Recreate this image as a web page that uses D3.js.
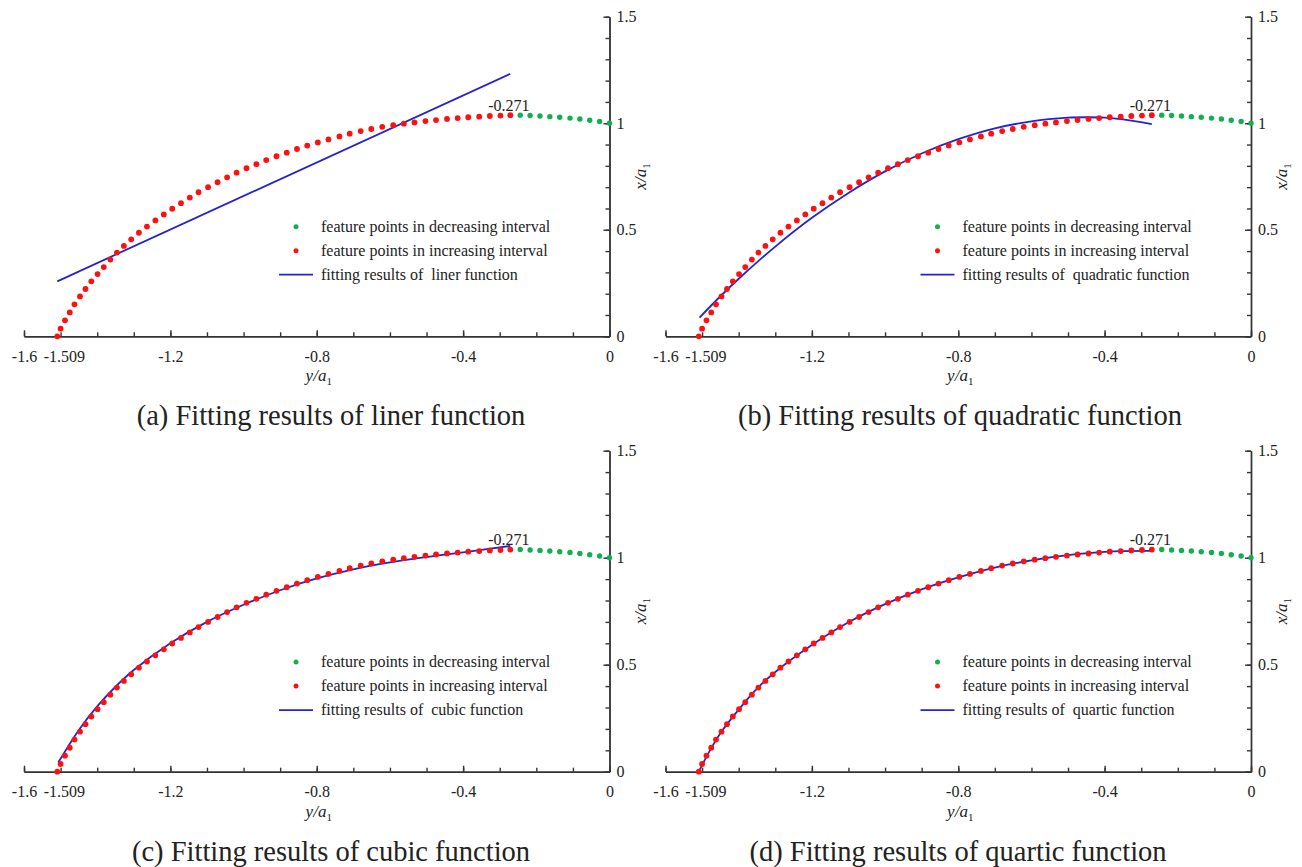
<!DOCTYPE html>
<html><head><meta charset="utf-8">
<script src="https://cdn.jsdelivr.net/npm/d3@7"></script>
<style>
body{margin:0;background:#fff;}
svg text{font-family:"Liberation Serif","Times New Roman",serif;fill:#222;}
</style></head><body>
<svg id="chart" width="1302" height="867"></svg>
<script>
// ---- data (y/a1 = horizontal, x/a1 = vertical) ----
const incY = [-1.509,-1.500,-1.488,-1.475,-1.462,-1.447,-1.432,-1.416,-1.399,-1.382,
  -1.364,-1.346,-1.327,-1.307,-1.286,-1.264,-1.241,-1.218,-1.195,-1.171,
  -1.147,-1.123,-1.097,-1.071,-1.045,-1.019,-0.992,-0.965,-0.938,-0.910,
  -0.882,-0.854,-0.826,-0.797,-0.768,-0.738,-0.710,-0.680,-0.651,-0.621,
  -0.591,-0.562,-0.533,-0.503,-0.474,-0.444,-0.415,-0.386,-0.356,-0.327,
  -0.298,-0.271];
const incX = [0.000,0.036,0.075,0.112,0.150,0.187,0.222,0.258,0.292,0.325,
  0.360,0.393,0.424,0.455,0.486,0.515,0.544,0.572,0.599,0.625,
  0.651,0.676,0.700,0.723,0.746,0.768,0.789,0.808,0.827,0.845,
  0.862,0.879,0.895,0.910,0.924,0.938,0.951,0.963,0.973,0.983,
  0.991,0.998,1.004,1.010,1.015,1.020,1.024,1.028,1.031,1.034,
  1.036,1.038];
const decY = [-0.244,-0.217,-0.190,-0.163,-0.136,-0.108,-0.081,-0.054,-0.027,0];
const decX = [1.038,1.036,1.034,1.031,1.028,1.024,1.020,1.014,1.008,1.000];

const linY = [-1.509,-0.271];
const linX = [0.258,1.232];
const quadY = [-1.507,-1.45,-1.4,-1.3,-1.2,-1.1,-1.0,-0.9,-0.8,-0.7,-0.6,-0.5,-0.45,-0.4,-0.35,-0.271];
const quadX = [0.088,0.188,0.270,0.421,0.556,0.673,0.774,0.858,0.925,0.976,1.009,1.026,1.028,1.026,1.018,0.996];
const cubY = [-1.506,-1.45,-1.4,-1.35,-1.3,-1.2,-1.1,-1.0,-0.9,-0.8,-0.7,-0.6,-0.5,-0.4,-0.271];
const cubX = [0.044,0.195,0.305,0.397,0.475,0.600,0.700,0.780,0.848,0.903,0.946,0.978,1.003,1.025,1.055];
const quarY = [-1.509,-1.48,-1.45,-1.4,-1.35,-1.3,-1.2,-1.1,-1.0,-0.9,-0.8,-0.7,-0.6,-0.5,-0.4,-0.35,-0.271];
const quarX = [0.000,0.095,0.180,0.290,0.388,0.466,0.592,0.698,0.783,0.852,0.908,0.954,0.988,1.012,1.027,1.031,1.032];

const xMajorTicks = [-1.6,-1.2,-0.8,-0.4,0];
const xMinorTicks = [-1.6,-1.5,-1.4,-1.3,-1.2,-1.1,-1.0,-0.9,-0.8,-0.7,-0.6,-0.5,-0.4,-0.3,-0.2,-0.1,0];
const yMajorTicks = [0,0.5,1,1.5];
const yMinorTicks = [0,0.1,0.2,0.3,0.4,0.5,0.6,0.7,0.8,0.9,1.0,1.1,1.2,1.3,1.4,1.5];
const startLabel = -1.509;
const peakValue = -0.271;
const peakLabel = "-0.271";
const legendDec = "feature points in decreasing interval";
const legendInc = "feature points in increasing interval";
const fitNames = ["liner","quadratic","cubic","quartic"];
const captions = ["(a) Fitting results of liner function","(b) Fitting results of quadratic function",
                  "(c) Fitting results of cubic function","(d) Fitting results of quartic function"];
const fitY = [linY, quadY, cubY, quarY];
const fitX = [linX, quadX, cubX, quarX];

// ---- layout ----
const panels = [
  {left:24,   right:609.5, bottom:336.3, top:16.7,  capX:331, capY:425},
  {left:665.5,right:1251,  bottom:336.3, top:16.7,  capX:960, capY:425},
  {left:24,   right:609.5, bottom:771.7, top:450.7, capX:331, capY:861},
  {left:665.5,right:1251,  bottom:771.7, top:450.7, capX:958, capY:861}
];
const RED = "#ff1010", GREEN = "#10b050", BLUE = "#2323d2", AX = "#333";

const svg = d3.select("#chart");
const incData = incY.map((v,i)=>({y:v,x:incX[i]}));
const decData = decY.map((v,i)=>({y:v,x:decX[i]}));

panels.forEach((p, i) => {
  const g = svg.append("g");
  const sx = d3.scaleLinear().domain([-1.6, 0]).range([p.left, p.right]);
  const sy = d3.scaleLinear().domain([0, 1.5]).range([p.bottom, p.top]);

  // x axis
  const xa1 = g.append("g").attr("transform", `translate(0,${p.bottom})`)
    .call(d3.axisBottom(sx).tickValues(xMinorTicks).tickSizeInner(-4).tickSizeOuter(0).tickFormat(""));
  const xa2 = g.append("g").attr("transform", `translate(0,${p.bottom})`)
    .call(d3.axisBottom(sx).tickValues(xMajorTicks).tickSizeInner(-6).tickSizeOuter(0).tickPadding(14)
      .tickFormat(d => String(d)));
  // y axis
  const ya1 = g.append("g").attr("transform", `translate(${p.right},0)`)
    .call(d3.axisRight(sy).tickValues(yMinorTicks).tickSizeInner(-4).tickSizeOuter(0).tickFormat(""));
  const ya2 = g.append("g").attr("transform", `translate(${p.right},0)`)
    .call(d3.axisRight(sy).tickValues(yMajorTicks).tickSizeInner(-6).tickSizeOuter(0).tickPadding(7)
      .tickFormat(d => String(d)));
  [xa1, xa2, ya1, ya2].forEach(a => {
    a.selectAll("path,line").attr("stroke", AX).attr("stroke-width", 1.4);
    a.selectAll("text").attr("font-size", 16).attr("font-family", "Liberation Serif").attr("fill", "#222");
  });

  // -1.509 label
  g.append("text").attr("x", sx(startLabel) + 7).attr("y", p.bottom + 14).attr("dy", "0.71em")
    .attr("text-anchor", "middle").attr("font-size", 16).text(String(startLabel));

  // axis titles
  const xt = g.append("text").attr("x", sx(-0.8) + 2).attr("y", p.bottom + 45)
    .attr("text-anchor", "middle").attr("font-size", 17);
  xt.append("tspan").attr("font-style", "italic").text("y/a");
  xt.append("tspan").attr("font-size", 11).attr("dy", 4).text("1");

  const yt = g.append("text").attr("transform", `translate(${p.right + 36},${sy(0.75)}) rotate(-90)`)
    .attr("text-anchor", "middle").attr("font-size", 17);
  yt.append("tspan").attr("font-style", "italic").text("x/a");
  yt.append("tspan").attr("font-size", 11).attr("dy", 4).text("1");

  // fitted curve
  const fitData = fitY[i].map((v,k)=>({y:v,x:fitX[i][k]}));
  const line = d3.line().x(d => sx(d.y)).y(d => sy(d.x)).curve(d3.curveCatmullRom);
  g.append("path").datum(fitData).attr("d", line).attr("fill", "none")
    .attr("stroke", BLUE).attr("stroke-width", 1.8);

  // points
  g.selectAll(".dec").data(decData).join("circle").attr("cx", d => sx(d.y)).attr("cy", d => sy(d.x))
    .attr("r", 2.7).attr("fill", GREEN);
  g.selectAll(".inc").data(incData).join("circle").attr("cx", d => sx(d.y)).attr("cy", d => sy(d.x))
    .attr("r", 2.9).attr("fill", RED);

  // peak label
  g.append("text").attr("x", sx(peakValue) - 1.5).attr("y", sy(incX[incX.length-1]) - 4.5)
    .attr("text-anchor", "middle").attr("font-size", 16).text(peakLabel);

  // legend
  const lx = p.left;
  const r1 = p.bottom - 109.6, r2 = p.bottom - 85.6, r3 = p.bottom - 61.6;
  g.append("circle").attr("cx", lx + 272).attr("cy", r1).attr("r", 2.5).attr("fill", GREEN);
  g.append("circle").attr("cx", lx + 272).attr("cy", r2).attr("r", 2.5).attr("fill", RED);
  g.append("line").attr("x1", lx + 255).attr("x2", lx + 289).attr("y1", r3).attr("y2", r3)
    .attr("stroke", BLUE).attr("stroke-width", 1.8);
  g.append("text").attr("x", lx + 297).attr("y", r1 + 5).attr("font-size", 16).text(legendDec);
  g.append("text").attr("x", lx + 297).attr("y", r2 + 5).attr("font-size", 16).text(legendInc);
  g.append("text").attr("x", lx + 297).attr("y", r3 + 5).attr("font-size", 16)
    .attr("xml:space", "preserve").style("white-space", "pre")
    .text("fitting results of  " + fitNames[i] + " function");

  // caption
  g.append("text").attr("x", p.capX).attr("y", p.capY).attr("text-anchor", "middle")
    .attr("font-size", 28.5).text(captions[i]);
});
</script>
</body></html>
